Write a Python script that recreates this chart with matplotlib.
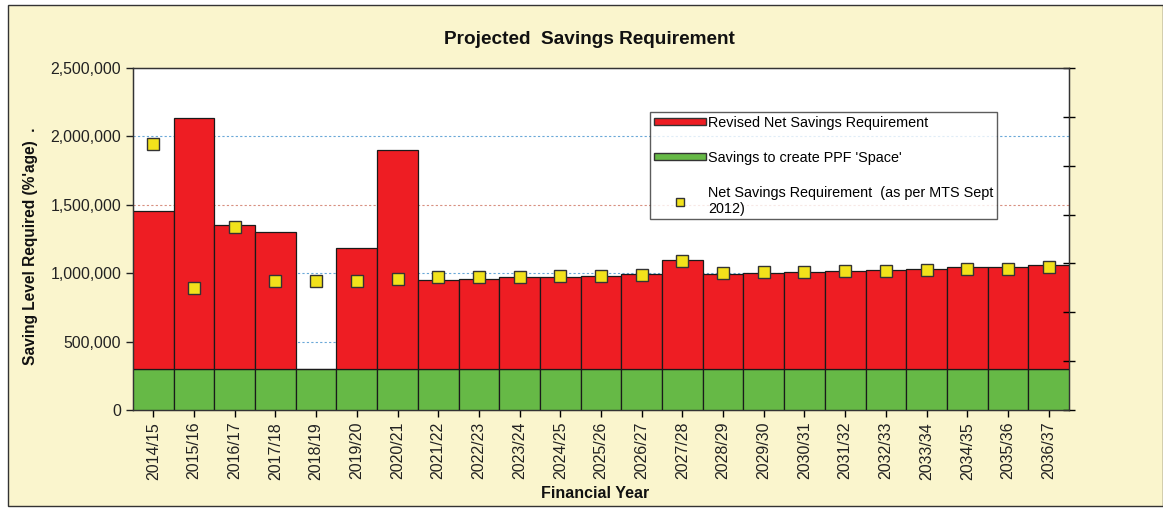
import matplotlib
matplotlib.use("Agg")
import matplotlib.pyplot as plt
from matplotlib.patches import Rectangle, Patch
from matplotlib.lines import Line2D
from matplotlib.ticker import FuncFormatter
import numpy as np

plt.rcParams["font.family"] = ["Liberation Sans", "DejaVu Sans"]

years = ["2014/15", "2015/16", "2016/17", "2017/18", "2018/19", "2019/20", "2020/21",
         "2021/22", "2022/23", "2023/24", "2024/25", "2025/26", "2026/27", "2027/28",
         "2028/29", "2029/30", "2030/31", "2031/32", "2032/33", "2033/34", "2034/35",
         "2035/36", "2036/37"]
ppf_space = [300000] * 23
revised_net = [1155000, 1834000, 1052000, 1001000, 0, 884000, 1600000,
               650000, 658000, 672000, 672000, 680000, 694000, 796000,
               694000, 700000, 709000, 716000, 723000, 730000, 745000,
               745000, 760000]
mts_2012 = [1944000, 892000, 1338000, 943000, 943000, 943000, 958000,
            972000, 972000, 972000, 980000, 980000, 987000, 1090000,
            1000000, 1009000, 1009000, 1016000, 1016000, 1023000, 1030000,
            1030000, 1045000]

RED = "#EE1D23"
GREEN = "#66B946"
YELLOW = "#F2E21B"
BG = "#FAF5CD"

fig = plt.figure(figsize=(11.63, 5.13), dpi=100)
fig.patch.set_facecolor("white")
fig.patches.append(Rectangle((8/1163, 1 - 506/513), 1155/1163, 501/513,
                             transform=fig.transFigure, facecolor=BG,
                             edgecolor="#333333", linewidth=1.0, zorder=-10))

ax = fig.add_axes([133/1163, 1 - 410/513, (1069 - 133)/1163, (410 - 68)/513])
ax.set_facecolor("white")
x = np.arange(len(years))
ax.bar(x, ppf_space, width=1.0, color=GREEN, edgecolor="#1a1a1a", linewidth=0.9, zorder=3)
ax.bar(x, revised_net, bottom=ppf_space, width=1.0, color=RED, edgecolor="#1a1a1a",
       linewidth=0.9, zorder=3)
ax.plot(x, mts_2012, linestyle="none", marker="s", markersize=8.5,
        markerfacecolor=YELLOW, markeredgecolor="#333333", markeredgewidth=1.0, zorder=5)

ax.set_xlim(-0.5, len(years) - 0.5)
ax.set_ylim(0, 2500000)
ax.set_yticks([0, 500000, 1000000, 1500000, 2000000, 2500000])
ax.yaxis.set_major_formatter(FuncFormatter(lambda v, p: f"{int(v):,}"))
for yv, c in [(500000, "#6aa8d8"), (1000000, "#6aa8d8"), (1500000, "#d89080"), (2000000, "#6aa8d8")]:
    ax.axhline(yv, color=c, linestyle=(0, (2, 2)), linewidth=0.8, zorder=1)
ax.set_xticks(x)
ax.set_xticklabels(years, rotation=90, fontsize=11.5, color="#222222")
ax.tick_params(axis="y", labelsize=11.4, colors="#222222", length=5, width=1)
ax.tick_params(axis="x", length=5, width=1)
for s in ax.spines.values():
    s.set_color("#333333")
    s.set_linewidth(1.0)

ax2 = ax.twinx()
ax2.set_ylim(0, 7)
ax2.set_yticks(range(8))
ax2.set_yticklabels([])
ax2.tick_params(axis="y", direction="inout", length=8, width=1)
for s in ax2.spines.values():
    s.set_color("#333333")

fig.text(589/1163, 1 - 40/513, "Projected  Savings Requirement", ha="center", va="center",
         fontsize=13.7, fontweight="bold", color="#111111")
fig.text(31/1163, 1 - 246/513, "Saving Level Required (%'age)  .", ha="center", va="center",
         rotation=90, fontsize=11.2, fontweight="bold", color="#111111")
fig.text(595/1163, 1 - 494/513, "Financial Year", ha="center", va="center",
         fontsize=11.5, fontweight="bold", color="#111111")

handles = [Patch(facecolor=RED, edgecolor="#333333"),
           Patch(facecolor=GREEN, edgecolor="#333333"),
           Line2D([], [], linestyle="none", marker="s", markersize=6,
                  markerfacecolor=YELLOW, markeredgecolor="#333333")]
labels = ["Revised Net Savings Requirement", "Savings to create PPF 'Space'",
          "Net Savings Requirement  (as per MTS Sept\n2012)"]
leg = ax.legend(handles, labels, loc="upper left",
                bbox_to_anchor=((650 - 133) / 936, (410 - 112) / 342),
                fontsize=10.4, frameon=True, fancybox=False, handlelength=3.6,
                handleheight=0.45, labelspacing=1.45, borderpad=0.25, handletextpad=0.15,
                borderaxespad=0)
leg.get_frame().set_edgecolor("#333333")
leg.get_frame().set_linewidth(1.0)
leg.set_zorder(10)

fig.savefig("out.png", dpi=100, facecolor=fig.get_facecolor())
